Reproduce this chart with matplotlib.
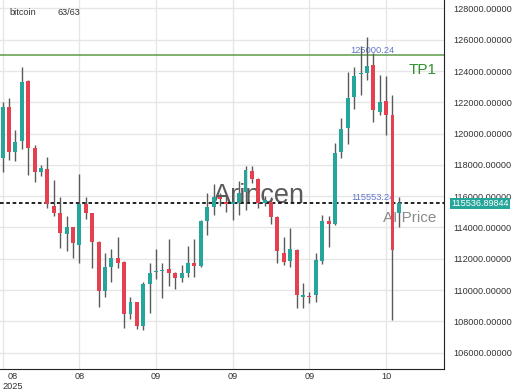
import numpy as np
import matplotlib
matplotlib.use("Agg")
import matplotlib.pyplot as plt

plt.rcParams['font.family'] = ['Liberation Sans', 'DejaVu Sans']

# bougies journalières (63)
opens = [118420, 121720, 118840, 119550, 123380, 119060, 117530, 117740, 115390, 114910,
         113580, 114010, 112880, 115500, 114910, 113090, 109960, 111500, 112030, 111800,
         108470, 109220, 107710, 110390, 111160, 111230, 111330, 111070, 110750, 111110,
         111750, 111540, 114430, 115290, 115950, 115630, 115500, 115560, 116270, 117630,
         117070, 115580, 115650, 114690, 112350, 111860, 112590, 109590, 109620, 109660,
         111860, 114420, 114220, 118840, 120340, 122360, 123810, 123890, 124380, 121400,
         122100, 121190, 114950]
highs = [122050, 122280, 120230, 124240, 123430, 119270, 117990, 118520, 117040, 115930,
         114740, 114060, 117420, 115970, 114950, 113110, 112350, 112630, 113370, 111890,
         109540, 109240, 110540, 111710, 112610, 111710, 113250, 111180, 111600, 112820,
         113270, 114480, 116190, 116780, 116200, 116050, 116360, 116970, 117900, 117930,
         117140, 116010, 115920, 114740, 113390, 113950, 112630, 110430, 109900, 112350,
         114800, 114740, 119420, 120980, 123960, 124260, 125600, 126150, 125150, 123740,
         123680, 122470, 115970]
lows = [117550, 118310, 118270, 119000, 117350, 116930, 117310, 115230, 114740, 112670,
        112500, 112030, 111710, 114520, 111430, 108900, 109580, 110520, 111380, 107560,
        108150, 107500, 107450, 108560, 110690, 109480, 110260, 110050, 110540, 110860,
        110860, 111460, 113520, 114770, 115370, 115010, 114480, 114770, 115120, 116820,
        115250, 115370, 114240, 111710, 111600, 111480, 108840, 108840, 109160, 109260,
        111670, 112770, 114190, 118420, 119340, 121550, 122470, 123430, 120760, 121190,
        119910, 108090, 114030]
closes = [121680, 118840, 119480, 123320, 119060, 117570, 117820, 115500, 114950, 113630,
          114010, 112990, 115500, 114950, 113050, 109960, 111480, 112020, 111750, 108470,
          109260, 107710, 110390, 111070, 111220, 111280, 111090, 110750, 111110, 111750,
          111560, 114430, 115290, 115970, 115790, 115500, 115630, 116200, 117670, 117070,
          115570, 115740, 114670, 112500, 111810, 112610, 109690, 109670, 109560, 111920,
          114420, 114220, 118780, 120280, 122260, 123680, 123890, 124320, 121510, 122040,
          121190, 112590, 115536.89844]

tick_pos = [0, 12, 24, 36, 48, 60]
tick_labels = ["08\n2025", "08", "09", "09", "09", "10"]
y_ticks = list(range(106000, 128001, 2000))

tp1 = 125000.24
ai_price = 115553.24
last_price = closes[-1]

green = "#26a69a"
red = "#e5404f"

o = np.array(opens)
c = np.array(closes)
x = np.arange(len(o))
col = [green if c[i] >= o[i] else red for i in range(len(o))]

fig = plt.figure(figsize=(5.2, 3.9), dpi=100)
ax = fig.add_axes([0, 21/390, 444/520, 369/390])

ax.set_xlim(-0.42, 69.06)
ax.set_ylim(104958, 128537)

ax.grid(color="#e6e6e6", lw=1)
ax.set_axisbelow(True)
for s in ["left", "top"]:
    ax.spines[s].set_visible(False)
ax.spines["bottom"].set_color("#222222")
ax.spines["right"].set_color("#222222")

# watermark
ax.text(32.9, 115565, "Arincen", fontsize=19.5, color="#5a5a5a", ha="left", va="baseline", zorder=1)

ax.axhline(tp1, color="#5c9c4c", lw=1.1, zorder=2)
ax.axhline(ai_price, color="#111111", lw=1.3, ls=(0, (2, 1.5)), zorder=2)

# bougies
ax.vlines(x, lows, highs, color="#5a5a5a", lw=1.0, zorder=3)
bottom = np.minimum(o, c)
height = np.maximum(np.abs(c - o), 80)
ax.bar(x, height, bottom=bottom, width=0.62, color=col, zorder=4)

ax.text(61.25, 125169, "125000.24", fontsize=6.7, color="#6376c9", ha="right", va="baseline", zorder=2)
ax.text(61.25, 115757, "115553.24", fontsize=6.7, color="#6376c9", ha="right", va="baseline", zorder=2)
ax.text(63.6, 123808, "TP1", fontsize=11, color="#2e922e", ha="left", va="baseline", zorder=2)
ax.text(59.5, 114370, "AI Price", fontsize=11, color="#8a8a8a", ha="left", va="baseline", zorder=2)

ax.set_xticks(tick_pos)
ax.set_xticklabels(tick_labels)
ax.set_yticks(y_ticks)
ax.set_yticklabels(["%.5f" % v for v in y_ticks])
ax.yaxis.tick_right()
ax.tick_params(axis="y", length=0, pad=6.5, labelsize=6.6, labelcolor="#333333")
ax.tick_params(axis="x", length=0, pad=2, labelsize=6.6, labelcolor="#333333")
first = ax.get_xticklabels()[0]
first.set_ha("left")
first.set_multialignment("center")

ax.text(1.0158, last_price, "%.5f" % last_price, transform=ax.get_yaxis_transform(),
        fontsize=6.6, color="white", ha="left", va="center",
        bbox=dict(boxstyle="square,pad=0.15", fc=green, ec="none"), clip_on=False)

fig.text(9/520, 1 - 15/390, "bitcoin", fontsize=6.6, color="#333333", va="baseline")
fig.text(58/520, 1 - 15/390, "63/63", fontsize=6.6, color="#333333", va="baseline")

fig.savefig("out.png", dpi=100)
